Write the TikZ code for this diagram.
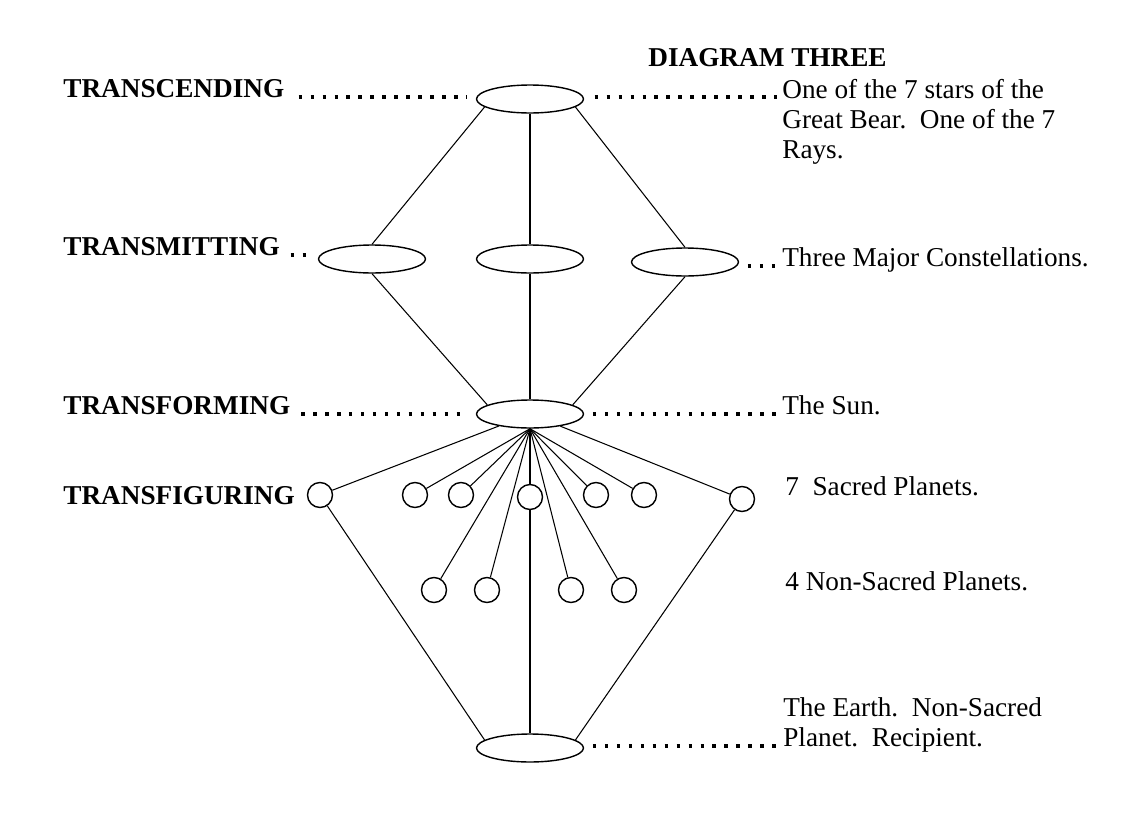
\documentclass[tikz,border=0pt]{standalone}
\usepackage{fontspec}
\setmainfont{Liberation Serif}
\usetikzlibrary{shapes.geometric}

\begin{document}
\begin{tikzpicture}[x=0.02cm, y=-0.02cm,
  every node/.style={font=\fontsize{15.5}{17}\selectfont},
  body/.style={ellipse, draw, line width=0.8pt, minimum width=2.14cm, minimum height=0.56cm, inner sep=0pt},
  planet/.style={circle, draw, line width=0.8pt, minimum size=0.5cm, inner sep=0pt},
  level/.style={anchor=base west, inner sep=0pt, font=\fontsize{15.5}{17}\selectfont\bfseries},
  note/.style={anchor=base west, inner sep=0pt, align=left},
  link/.style={line width=0.6pt},
  leader/.style={line width=2pt, dash pattern=on 2pt off 4.8pt}]
  \useasboundingbox (0,0) rectangle (1147,832);

  \node[level] (title) at (648,66) {DIAGRAM THREE};

  % the bodies
  \node[body] (top) at (530,99) {};
  \node[body] (midL) at (372,259) {};
  \node[body] (midC) at (530,259) {};
  \node[body] (midR) at (685,262) {};
  \node[body] (sun) at (530,414) {};
  \node[body] (earth) at (530,748) {};

  % the planets
  \node[planet] (s1) at (320,495) {};
  \node[planet] (s2) at (415,495) {};
  \node[planet] (s3) at (461,495) {};
  \node[planet] (s4) at (530,497) {};
  \node[planet] (s5) at (596,495) {};
  \node[planet] (s6) at (644,495) {};
  \node[planet] (s7) at (742,499) {};
  \node[planet] (n1) at (434,590) {};
  \node[planet] (n2) at (487,590) {};
  \node[planet] (n3) at (571,590) {};
  \node[planet] (n4) at (624,590) {};

  % levels on the left
  \node[level] (lblA) at (63,97) {TRANSCENDING};
  \node[level] (lblB) at (63,255) {TRANSMITTING};
  \node[level] (lblC) at (63,414) {TRANSFORMING};
  \node[level] (lblD) at (63,504) {TRANSFIGURING};

  % notes on the right (base is the last line)
  \node[note] (descA) at (782,158) {One of the 7 stars of the\\Great Bear.\ \ One of the 7\\Rays.};
  \node[note] (descB) at (782,266) {Three Major Constellations.};
  \node[note] (descC) at (782,414) {The Sun.};
  \node[note] (descD) at (785,495) {7\ \ Sacred Planets.};
  \node[note] (descE) at (785,590) {4 Non-Sacred Planets.};
  \node[note] (descF) at (783,746) {The Earth.\ \ Non-Sacred\\Planet.\ \ Recipient.};

  % leaders
  \draw[leader, shorten <=8pt, shorten >=5pt] (lblA.base east) -- (lblA.base -| top.west);
  \draw[leader, shorten <=6pt, shorten >=1pt] (lblA.base -| top.east) -- (lblA.base -| descA.west);
  \draw[leader, shorten <=6pt, shorten >=5pt] (lblB.base east) -- (lblB.base -| midL.west);
  \draw[leader, shorten <=5pt, shorten >=3pt] (descB.base -| midR.east) -- (descB.base west);
  \draw[leader, shorten <=6pt, shorten >=5pt] (lblC.base east) -- (lblC.base -| sun.west);
  \draw[leader, shorten <=5pt, shorten >=3pt] (descC.base -| sun.east) -- (descC.base west);
  \draw[leader, shorten <=5pt, shorten >=4pt] (descF.base -| earth.east) -- (descF.base west);

  % links
  \draw[link] (top.190) -- (midL.north);
  \draw[link] (top.south) -- (midC.north);
  \draw[link] (top.350) -- (midR.north);
  \draw[link] (midL.south) -- (sun.168);
  \draw[link] (midC.south) -- (sun.north);
  \draw[link] (midR.south) -- (sun.12);
  \draw[link] (sun) -- (s1);
  \draw[link] (sun) -- (s7);
  \draw[link] (sun.south) -- (s2);
  \draw[link] (sun.south) -- (s3);
  \draw[link] (sun.south) -- (s4.north);
  \draw[link] (sun.south) -- (s5);
  \draw[link] (sun.south) -- (s6);
  \draw[link] (sun.south) -- (n1);
  \draw[link] (sun.south) -- (n2);
  \draw[link] (sun.south) -- (n3);
  \draw[link] (sun.south) -- (n4);
  \draw[link] (s4.south) -- (earth.north);
  \draw[link] (s1) -- (earth.170);
  \draw[link] (s7) -- (earth.10);
\end{tikzpicture}
\end{document}
